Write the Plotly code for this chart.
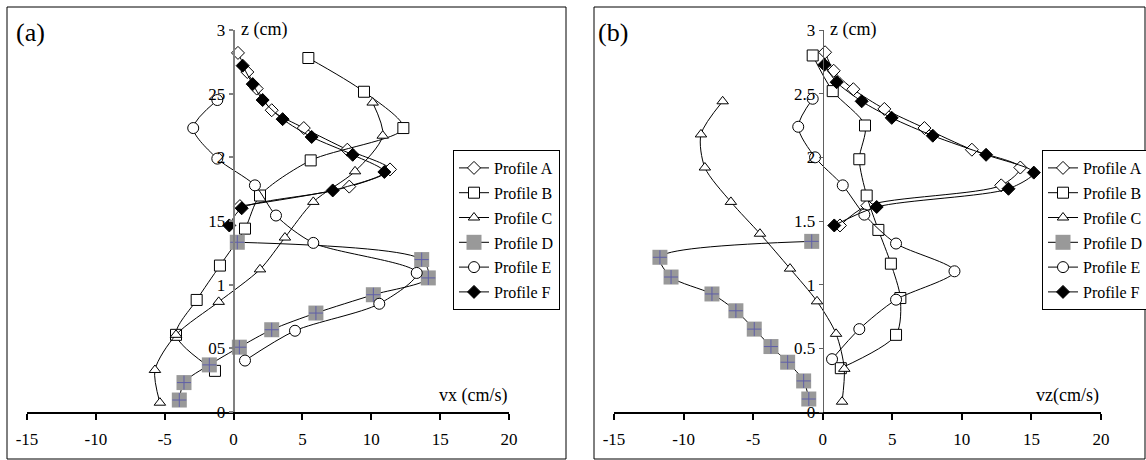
import plotly.graph_objects as go

W, H = 1146, 460

# ---------------- data: panel (a) vx (cm/s) vs z (cm) ----------------
a_A_vx = [0.32, 1.0, 1.68, 2.77, 5.1, 8.26, 11.36, 8.4, 0.46]
a_A_z = [2.82, 2.67, 2.54, 2.37, 2.23, 2.06, 1.905, 1.77, 1.617]
a_B_vx = [5.43, 9.47, 12.33, 5.6, 1.92, 0.83, -0.99, -2.68, -4.18, -1.35]
a_B_z = [2.78, 2.515, 2.23, 1.976, 1.70, 1.44, 1.15, 0.88, 0.606, 0.323]
a_C_vx = [10.1, 10.83, 8.82, 5.79, 3.73, 1.92, -1.08, -4.18, -5.71, -5.35]
a_C_z = [2.43, 2.17, 1.89, 1.65, 1.37, 1.12, 0.865, 0.606, 0.33, 0.073]
a_D_vx = [0.27, 13.66, 14.14, 10.15, 5.98, 2.77, 0.42, -1.76, -3.6, -3.94]
a_D_z = [1.333, 1.197, 1.053, 0.921, 0.777, 0.646, 0.509, 0.37, 0.231, 0.094]
a_E_vx = [-1.18, -2.93, -1.18, 1.55, 3.08, 5.79, 13.3, 10.58, 4.46, 0.83]
a_E_z = [2.45, 2.23, 1.99, 1.78, 1.543, 1.328, 1.092, 0.85, 0.638, 0.404]
a_F_vx = [0.66, 1.39, 2.11, 3.56, 5.67, 8.65, 10.95, 7.2, 0.59, -0.31]
a_F_z = [2.72, 2.575, 2.45, 2.30, 2.16, 2.02, 1.885, 1.74, 1.60, 1.465]

# ---------------- data: panel (b) vz (cm/s) vs z (cm) ----------------
b_A_vz = [0.17, 0.79, 2.2, 4.43, 7.31, 10.72, 14.2, 12.83, 3.2, 1.24]
b_A_z = [2.825, 2.68, 2.535, 2.38, 2.23, 2.06, 1.92, 1.78, 1.62, 1.465]
b_B_vz = [-0.72, 0.72, 3.04, 2.63, 3.16, 4.0, 4.9, 5.58, 5.27, 1.3]
b_B_z = [2.80, 2.52, 2.25, 1.985, 1.70, 1.43, 1.165, 0.895, 0.606, 0.344]
b_C_vz = [-7.19, -8.75, -8.47, -6.6, -4.51, -2.35, -0.41, 0.96, 1.55, 1.39]
b_C_z = [2.44, 2.18, 1.92, 1.65, 1.40, 1.126, 0.869, 0.614, 0.339, 0.081]
b_D_vz = [-0.79, -11.7, -10.9, -7.96, -6.24, -4.92, -3.72, -2.52, -1.37, -1.0]
b_D_z = [1.34, 1.215, 1.06, 0.927, 0.795, 0.651, 0.514, 0.391, 0.244, 0.102]
b_E_vz = [-0.72, -1.76, -0.55, 1.44, 2.99, 5.27, 9.47, 5.27, 2.63, 0.67]
b_E_z = [2.46, 2.24, 2.0, 1.78, 1.55, 1.323, 1.105, 0.882, 0.651, 0.415]
b_F_vz = [0.12, 1.0, 2.8, 4.96, 7.91, 11.74, 15.17, 13.35, 3.88, 0.83]
b_F_z = [2.727, 2.59, 2.44, 2.31, 2.17, 2.02, 1.88, 1.753, 1.61, 1.465]

profile_names = ["Profile A", "Profile B", "Profile C", "Profile D", "Profile E", "Profile F"]
x_ticks = [-15, -10, -5, 0, 5, 10, 15, 20]
x_tick_text = ["-15", "-10", "-5", "0", "5", "10", "15", "20"]
z_ticks = [0, 0.5, 1, 1.5, 2, 2.5, 3]
z_tick_text_a = ["0", "05", "1", "15", "2", "25", "3"]
z_tick_text_b = ["0", "0.5", "1", "1.5", "2", "2.5", "3"]
x_range = [-15, 20]
z_range = [0, 3]

FONT = "Times New Roman, Liberation Serif, DejaVu Serif, serif"
GRAY = "#999999"
PLUS = "#5f5fa8"

styles = {
    "Profile A": dict(symbol="diamond", size=10, color="white", line=dict(color="black", width=1)),
    "Profile B": dict(symbol="square", size=11, color="white", line=dict(color="black", width=1)),
    "Profile C": dict(symbol="triangle-up", size=10, color="white", line=dict(color="black", width=1)),
    "Profile D": dict(symbol="square", size=15, color=GRAY, line=dict(color=GRAY, width=0)),
    "Profile E": dict(symbol="circle", size=11, color="white", line=dict(color="black", width=1)),
    "Profile F": dict(symbol="diamond", size=10, color="black", line=dict(color="black", width=1)),
}

panel_a = [(a_A_vx, a_A_z), (a_B_vx, a_B_z), (a_C_vx, a_C_z),
           (a_D_vx, a_D_z), (a_E_vx, a_E_z), (a_F_vx, a_F_z)]
panel_b = [(b_A_vz, b_A_z), (b_B_vz, b_B_z), (b_C_vz, b_C_z),
           (b_D_vz, b_D_z), (b_E_vz, b_E_z), (b_F_vz, b_F_z)]

fig = go.Figure()


def add_panel(data, xa, ya, legend, tag):
    for name, (xs, zs) in zip(profile_names, data):
        fig.add_trace(go.Scatter(
            x=xs, y=zs, mode="lines+markers", name=name,
            xaxis=xa, yaxis=ya, legend=legend, legendgroup=tag + name,
            line=dict(color="black", width=1, shape="spline", smoothing=0.8),
            marker=styles[name], hoverinfo="skip",
        ))
        if name == "Profile D":
            fig.add_trace(go.Scatter(
                x=xs, y=zs, mode="markers", name=name, showlegend=False,
                xaxis=xa, yaxis=ya, legend=legend, legendgroup=tag + name,
                marker=dict(symbol="cross-thin", size=10, line=dict(color=PLUS, width=1)),
                hoverinfo="skip",
            ))


add_panel(panel_a, "x", "y", "legend", "a")
add_panel(panel_b, "x2", "y2", "legend2", "b")

# pixel layout of the two plot areas
dom_a = [27 / W, 509 / W]
dom_b = [614 / W, 1101 / W]
dom_y = [1 - 412 / H, 1 - 30 / H]


def zero_pos(dom):
    frac = (0 - x_range[0]) / (x_range[1] - x_range[0])
    return dom[0] + frac * (dom[1] - dom[0])


xaxis_common = dict(
    range=x_range, tickvals=x_ticks, ticktext=x_tick_text, showgrid=False, zeroline=False,
    showline=True, linecolor="black", linewidth=1.5, ticks="outside", ticklen=6,
    tickcolor="black", tickwidth=1.5, tickfont=dict(family=FONT, size=17, color="black"),
    ticklabelstandoff=5, fixedrange=True, automargin=False,
)
yaxis_common = dict(
    range=z_range, tickvals=z_ticks, showgrid=False, zeroline=False,
    showline=True, ticks="outside", ticklen=4,
    tickfont=dict(family=FONT, size=17, color="black"), fixedrange=True,
    domain=dom_y, anchor="free", automargin=False,
)

legend_common = dict(
    bgcolor="white", bordercolor="black", borderwidth=1,
    font=dict(family=FONT, size=16, color="black"),
    traceorder="grouped", tracegroupgap=1, xanchor="left", yanchor="top",
    itemclick=False, itemdoubleclick=False,
)

fig.update_layout(
    template="none",
    width=W, height=H, margin=dict(l=0, r=0, t=0, b=0, pad=0, autoexpand=False),
    paper_bgcolor="white", plot_bgcolor="white",
    font=dict(family=FONT, color="black"),
    xaxis=dict(domain=dom_a, anchor="y", **xaxis_common),
    xaxis2=dict(domain=dom_b, anchor="y2", **xaxis_common),
    yaxis=dict(position=zero_pos(dom_a), ticktext=z_tick_text_a, linecolor="#808080",
               linewidth=2, tickcolor="#808080", tickwidth=1.5, **yaxis_common),
    yaxis2=dict(position=zero_pos(dom_b), ticktext=z_tick_text_b, linecolor="#606060",
                linewidth=1, tickcolor="#606060", tickwidth=1, **yaxis_common),
    legend=dict(x=453 / W, y=1 - 150 / H, **legend_common),
    legend2=dict(x=1042 / W, y=1 - 150 / H, **legend_common),
    showlegend=True,
    shapes=[
        dict(type="rect", xref="paper", yref="paper", x0=7 / W, x1=566 / W,
             y0=1 - 459 / H, y1=1 - 7 / H, line=dict(color="black", width=1)),
        dict(type="rect", xref="paper", yref="paper", x0=594 / W, x1=1145 / W,
             y0=1 - 459 / H, y1=1 - 7 / H, line=dict(color="black", width=1)),
    ],
    annotations=[
        dict(text="(a)", xref="paper", yref="paper", x=14 / W, y=1 - 32 / H,
             xanchor="left", yanchor="middle", showarrow=False,
             font=dict(family=FONT, size=26)),
        dict(text="(b)", xref="paper", yref="paper", x=596 / W, y=1 - 32 / H,
             xanchor="left", yanchor="middle", showarrow=False,
             font=dict(family=FONT, size=26)),
        dict(text="z (cm)", xref="x", yref="y", x=0, y=3, xanchor="left", yanchor="middle",
             xshift=5, showarrow=False, font=dict(family=FONT, size=18)),
        dict(text="z (cm)", xref="x2", yref="y2", x=0, y=3, xanchor="left", yanchor="middle",
             xshift=5, showarrow=False, font=dict(family=FONT, size=18)),
        dict(text="vx (cm/s)", xref="x", yref="y", x=20, y=0, xanchor="right", yanchor="bottom",
             yshift=4, showarrow=False, font=dict(family=FONT, size=18)),
        dict(text="vz(cm/s)", xref="x2", yref="y2", x=20, y=0, xanchor="right", yanchor="bottom",
             yshift=4, showarrow=False, font=dict(family=FONT, size=18)),
    ],
)

fig.write_html("out.html")
